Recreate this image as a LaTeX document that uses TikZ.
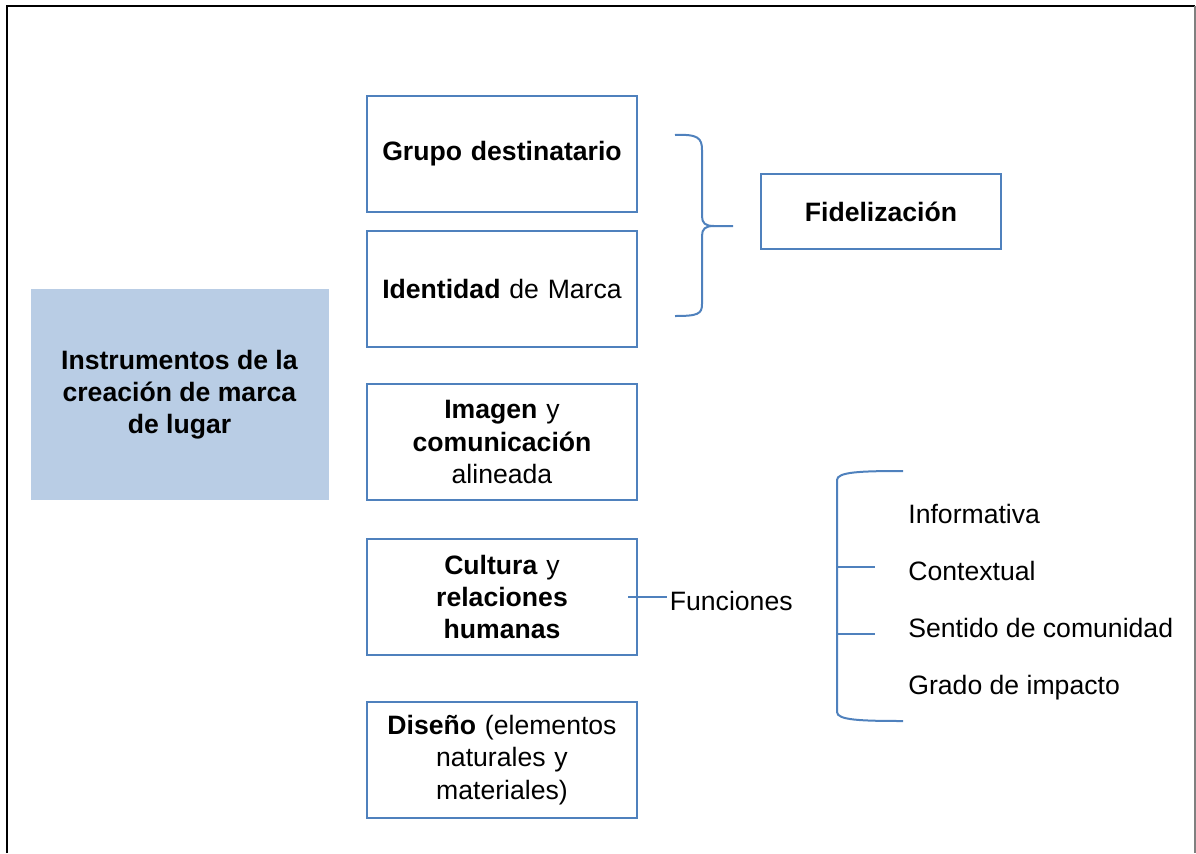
\documentclass[tikz,border=0pt]{standalone}
\usepackage{fontspec}
\setmainfont{Liberation Sans}
\usetikzlibrary{positioning}
\definecolor{boxblue}{HTML}{4F81BD}
\definecolor{fillblue}{HTML}{B9CDE5}

\begin{document}
\begin{tikzpicture}[x=0.5pt, y=-0.5pt,
font=\fontsize{13.3}{16.2}\selectfont,
box/.style={rectangle, draw=boxblue, line width=1pt, minimum width=135pt, minimum height=58pt, align=center, text width=125pt},
link/.style={draw=boxblue, line width=1pt},
item/.style={anchor=base west, inner sep=0pt}
]
\useasboundingbox (0,0) rectangle (1196,853);
\draw[line width=1pt] (7,853) -- (7,6) -- (1195,6);
\draw[gray, line width=0.6pt] (1195,6) -- (1195,853);

\node[rectangle, fill=fillblue, minimum width=149pt, minimum height=105.5pt, align=center](instrumentos) at (179.5,394.75)
  {\textbf{Instrumentos de la}\\ \textbf{creación de marca}\\ \textbf{de lugar}};

\node[box](grupo_dest) at (502,154){\textbf{Grupo destinatario}};
\node[box](identidad)[below=8.5pt of grupo_dest]{\textbf{Identidad} de Marca};
\node[box](imagen)[below=17.5pt of identidad]{\textbf{Imagen} y\\ \textbf{comunicación}\\ alineada};
\node[box](cultura)[below=18.5pt of imagen]{\textbf{Cultura} y\\ \textbf{relaciones}\\ \textbf{humanas}};
\node[box](diseno)[below=22.5pt of cultura]{\textbf{Diseño} (elementos\\ naturales y\\ materiales)};

\node[box, minimum width=120pt, minimum height=37.5pt, text width=110pt](fidelizacion) at (881,211.5){\textbf{Fidelización}};

% llave hacia fidelizacion
\coordinate (llave_tip) at (733,226);
\draw[link] (675,135) .. controls (698,134) and (702,138) .. (702,150) -- (702,216)
  .. controls (702,223) and (705,226) .. (714,226) -- (llave_tip);
\draw[link] (714,226) .. controls (705,226) and (702,229) .. (702,236) -- (702,304)
  .. controls (702,314) and (698,316) .. (675,316);

\node[item, inner sep=1.5pt](funciones) at (666.5,610){Funciones};
\draw[link] ([xshift=-5pt]cultura.east) -- (cultura.east -| funciones.west);

\node[item](informativa) at (908,523){Informativa};
\node[item](contextual) at (908,580){Contextual};
\node[item](comunidad) at (908,637){Sentido de comunidad};
\node[item](impacto) at (908,694){Grado de impacto};

% corchete de funciones
\coordinate (corchete_top) at (903,471);
\coordinate (corchete_bot) at (903,721);
\draw[link] (corchete_top) .. controls (860,471) and (837,472) .. (837,480) -- (837,712)
  .. controls (837,720) and (860,721) .. (corchete_bot);
\draw[link] (837,567) -- (875,567);
\draw[link] (837,634) -- (875,634);
\end{tikzpicture}
\end{document}
